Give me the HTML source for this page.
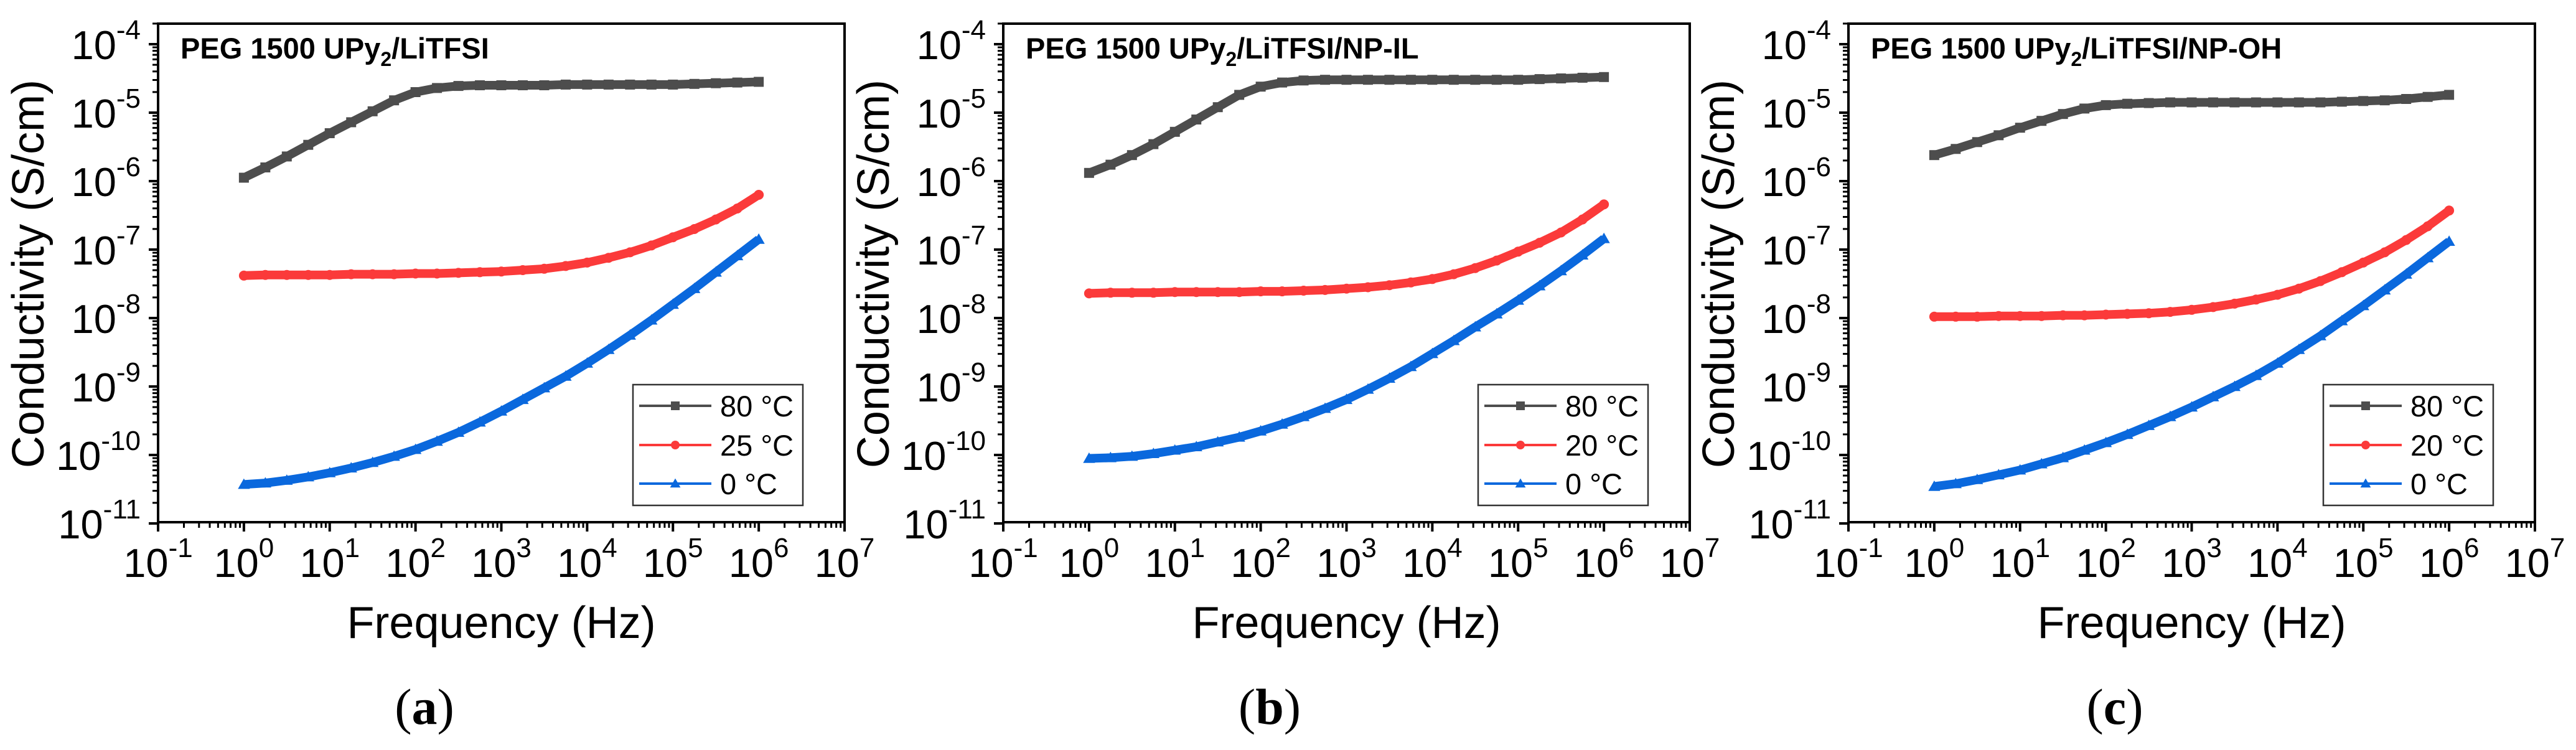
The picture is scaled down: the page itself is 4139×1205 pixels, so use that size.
<!DOCTYPE html>
<html><head><meta charset="utf-8"><style>
html,body{margin:0;padding:0;background:#fff;}
svg{display:block;font-family:"Liberation Sans",Arial,sans-serif;}
</style></head><body>
<svg id="fig" width="4139" height="1205" viewBox="0 0 4139 1205" xmlns="http://www.w3.org/2000/svg"></svg>
<script>
// log10(frequency) sample grid (Hz), quarter-decade steps
const logFreq = [0,0.25,0.5,0.75,1,1.25,1.5,1.75,2,2.25,2.5,2.75,3,3.25,3.5,3.75,4,4.25,4.5,4.75,5,5.25,5.5,5.75,6];
const xTickExps = [-1,0,1,2,3,4,5,6,7];
const yTickExps = [-11,-10,-9,-8,-7,-6,-5,-4];
const panelTitles = ["/LiTFSI","/LiTFSI/NP-IL","/LiTFSI/NP-OH"];
const panelLetters = ["a","b","c"];
const seriesLabelsA = ["80 °C","25 °C","0 °C"];
const seriesLabelsB = ["80 °C","20 °C","0 °C"];
const seriesLabelsC = ["80 °C","20 °C","0 °C"];
// log10 conductivity (S/cm)
const a80 = [-5.95,-5.80,-5.64,-5.47,-5.30,-5.14,-4.98,-4.82,-4.70,-4.64,-4.61,-4.60,-4.60,-4.60,-4.60,-4.59,-4.59,-4.59,-4.59,-4.59,-4.59,-4.58,-4.57,-4.56,-4.55];
const a25 = [-7.38,-7.37,-7.37,-7.37,-7.37,-7.36,-7.36,-7.36,-7.35,-7.35,-7.34,-7.33,-7.32,-7.30,-7.28,-7.24,-7.19,-7.12,-7.04,-6.94,-6.82,-6.70,-6.56,-6.40,-6.20];
const a0 = [-10.43,-10.41,-10.37,-10.32,-10.26,-10.19,-10.11,-10.02,-9.92,-9.80,-9.67,-9.52,-9.36,-9.19,-9.02,-8.85,-8.66,-8.46,-8.25,-8.03,-7.80,-7.57,-7.33,-7.09,-6.85];
const b80 = [-5.88,-5.76,-5.62,-5.46,-5.28,-5.10,-4.92,-4.74,-4.62,-4.56,-4.53,-4.52,-4.52,-4.52,-4.52,-4.52,-4.52,-4.52,-4.52,-4.52,-4.52,-4.51,-4.50,-4.49,-4.48];
const b20 = [-7.64,-7.63,-7.63,-7.63,-7.62,-7.62,-7.62,-7.62,-7.61,-7.61,-7.60,-7.59,-7.57,-7.55,-7.52,-7.48,-7.43,-7.36,-7.27,-7.16,-7.03,-6.90,-6.75,-6.56,-6.34];
const b0 = [-10.05,-10.04,-10.02,-9.98,-9.93,-9.88,-9.81,-9.74,-9.65,-9.55,-9.44,-9.32,-9.19,-9.04,-8.88,-8.71,-8.52,-8.33,-8.13,-7.94,-7.74,-7.53,-7.31,-7.08,-6.84];
const c80 = [-5.62,-5.53,-5.43,-5.33,-5.22,-5.12,-5.02,-4.94,-4.89,-4.87,-4.86,-4.85,-4.85,-4.85,-4.85,-4.85,-4.85,-4.85,-4.85,-4.84,-4.83,-4.82,-4.80,-4.77,-4.74];
const c20 = [-7.98,-7.98,-7.98,-7.97,-7.97,-7.97,-7.96,-7.96,-7.95,-7.94,-7.93,-7.91,-7.88,-7.84,-7.79,-7.73,-7.66,-7.57,-7.46,-7.33,-7.19,-7.04,-6.86,-6.66,-6.43];
const c0 = [-10.46,-10.42,-10.36,-10.29,-10.22,-10.13,-10.04,-9.93,-9.82,-9.70,-9.57,-9.44,-9.30,-9.15,-9.00,-8.84,-8.66,-8.46,-8.26,-8.04,-7.82,-7.59,-7.36,-7.12,-6.88];

const NS="http://www.w3.org/2000/svg";
const svg=document.getElementById('fig');
function mk(tag,attrs,parent){const e=document.createElementNS(NS,tag);for(const k in attrs)e.setAttribute(k,attrs[k]);(parent||svg).appendChild(e);return e;}

const colors=["#4d4d4d","#fb3a3a","#0a68dd"];
const shapes=["square","circle","triangle"];
const panels=[
 {left:254,series:[a80,a25,a0],labels:seriesLabelsA},
 {left:1612,series:[b80,b20,b0],labels:seriesLabelsB},
 {left:2970,series:[c80,c20,c0],labels:seriesLabelsC}
];
const W=1103, TOP=38, BOT=839, DEC=110, Y4=71;

panels.forEach((p,pi)=>{
 const L=p.left;
 const g=mk('g',{});
 
 
 const xs=v=>L+(v+1)*W/8;
 const ys=v=>Y4+(-4-v)*DEC;
 const fr=mk('rect',{x:L,y:TOP,width:W,height:BOT-TOP,fill:'none',stroke:'#000','stroke-width':4},g);
 
 
 xTickExps.forEach((e,i)=>{
  const x=xs(e);
  mk('line',{x1:x,y1:BOT,x2:x,y2:BOT+15,stroke:'#000','stroke-width':4},g);
  if(i<xTickExps.length-1){for(let m=2;m<10;m++){const xm=xs(e+Math.log10(m));mk('line',{x1:xm,y1:BOT,x2:xm,y2:BOT+9,stroke:'#000','stroke-width':3},g);}}
  const t=mk('text',{x:x,y:927,'font-size':65,'text-anchor':'middle',fill:'#000'},g);
  
  
  t.appendChild(document.createTextNode('10'));
  const s=mk('tspan',{dy:-32,'font-size':44},t);s.textContent=String(e);
 });
 yTickExps.forEach((e,i)=>{
  const y=ys(e);
  mk('line',{x1:L-15,y1:y,x2:L,y2:y,stroke:'#000','stroke-width':4},g);
  for(let m=2;m<10;m++){const ym=ys(e+Math.log10(m));if(ym>=TOP-1)mk('line',{x1:L-9,y1:ym,x2:L,y2:ym,stroke:'#000','stroke-width':3},g);}
  const t=mk('text',{x:L-28,y:y+24,'font-size':65,'text-anchor':'end',fill:'#000'},g);
  
  
  t.appendChild(document.createTextNode('10'));
  const s=mk('tspan',{dy:-32,'font-size':44},t);s.textContent=String(e);
 });
 const xt=mk('text',{x:L+W/2,y:1025,'font-size':72,'text-anchor':'middle',fill:'#000'},g);
 
 
 xt.textContent='Frequency (Hz)';
 const yt=mk('text',{x:0,y:0,'font-size':72,'text-anchor':'middle',fill:'#000',transform:`translate(${L-184},440) rotate(-90)`},g);
 
 
 yt.textContent='Conductivity (S/cm)';
 const tt=mk('text',{x:L+36,y:94,'font-size':47,'font-weight':'bold',fill:'#000'},g);
 
 
 tt.appendChild(document.createTextNode('PEG 1500 UPy'));
 const sub=mk('tspan',{dy:12,'font-size':32},tt);sub.textContent='2';
 const rest=mk('tspan',{dy:-12},tt);rest.textContent=panelTitles[pi];
 function marker(shape,x,y,col,parent,sz){
  let m;
  if(shape==='square')m=mk('rect',{x:x-sz/2,y:y-sz/2,width:sz,height:sz,fill:col},parent);
  else if(shape==='circle')m=mk('circle',{cx:x,cy:y,r:sz/2,fill:col},parent);
  else m=mk('polygon',{points:`${x},${y-sz*0.6} ${x-sz*0.6},${y+sz*0.45} ${x+sz*0.6},${y+sz*0.45}`,fill:col},parent);
  return m;
 }
 p.series.forEach((vals,si)=>{
  const sg=mk('g',{},g);
  
  
  const pts=vals.map((v,i)=>xs(logFreq[i])+','+ys(v)).join(' ');
  const pl=mk('polyline',{points:pts,fill:'none',stroke:colors[si],'stroke-width':14,'stroke-linejoin':'round'},sg);
  
  
  vals.forEach((v,i)=>{
   const m=marker(shapes[si],xs(logFreq[i]),ys(v),colors[si],sg,16);
   
   
  });
 });
 const lg=mk('g',{},g);
 
 
 mk('rect',{x:L+763,y:618,width:273,height:194,fill:'#fff',stroke:'#333','stroke-width':2.5},lg);
 const rows=[652,715,777];
 p.labels.forEach((lab,si)=>{
  const e=mk('g',{},lg);
  
  
  mk('line',{x1:L+773,y1:rows[si],x2:L+889,y2:rows[si],stroke:colors[si],'stroke-width':4},e);
  marker(shapes[si],L+831,rows[si],colors[si],e,14);
  const t=mk('text',{x:L+903,y:rows[si]+17,'font-size':47,fill:'#000'},e);
  t.textContent=lab;
 });
 const lt=mk('text',{x:L+428,y:1163,'font-size':82,'text-anchor':'middle',fill:'#000','font-family':'"Liberation Serif",serif'},g);
 
 
 lt.appendChild(document.createTextNode('('));
 const bl=mk('tspan',{'font-weight':'bold'},lt);bl.textContent=panelLetters[pi];
 lt.appendChild(document.createTextNode(')'));
});
</script>
</body></html>
